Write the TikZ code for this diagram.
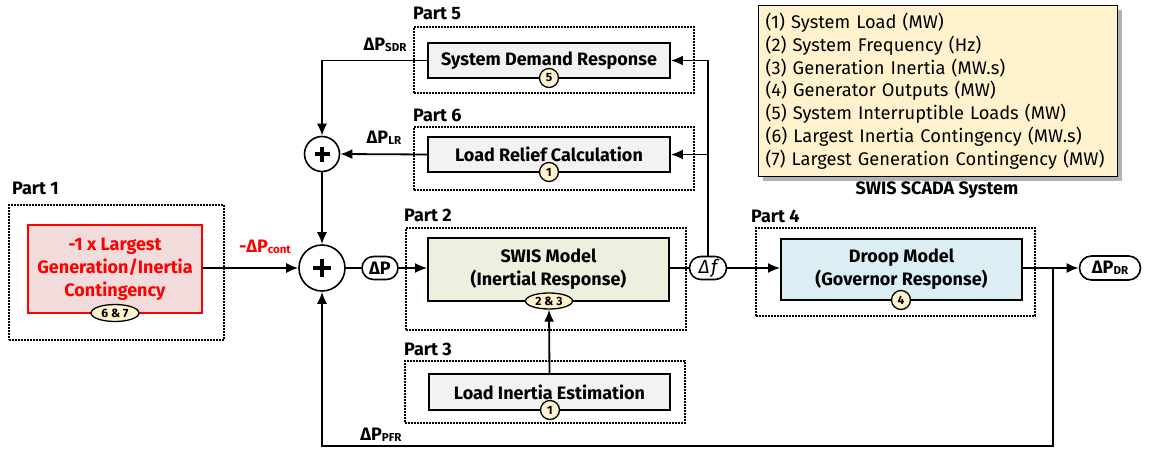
\documentclass[tikz,border=0pt]{standalone}
\usepackage{fontspec}
\setmainfont{Fira Sans}
\usetikzlibrary{arrows.meta,shadows,calc,shapes.geometric}
\definecolor{redfill}{HTML}{F2DCDB}
\definecolor{greenfill}{HTML}{EBF1DE}
\definecolor{bluefill}{HTML}{DAEEF3}
\definecolor{grayfill}{HTML}{F2F2F2}
\definecolor{yelfill}{HTML}{FFF2CC}
\definecolor{redline}{HTML}{FF0000}
\newcommand\fsmain{\fontsize{18}{23}\selectfont\bfseries}
\newcommand\fsleg{\fontsize{18.3}{22.8}\selectfont}
\newcommand\fsbadge{\fontsize{12}{12}\selectfont\bfseries}
\newcommand\dsub[1]{\raisebox{-1.5pt}{\fontsize{11.5}{11.5}\selectfont\bfseries #1}}
\begin{document}
\begin{tikzpicture}[x=1pt,y=-1pt,
  partbox/.style={draw, line width=1.2pt, dash pattern=on 1.6pt off 1.4pt, inner sep=0pt},
  partlbl/.style={font=\fsmain, inner sep=0pt, anchor=west},
  blockbox/.style={draw, line width=1.9pt, inner sep=0pt, align=center, font=\fsmain},
  redbox/.style={blockbox, draw=redline, fill=redfill, text=redline},
  badge/.style={circle, draw, line width=1.3pt, fill=yelfill, inner sep=0pt, minimum size=19pt, font=\fsbadge},
  badgeov/.style={ellipse, draw, line width=1.3pt, fill=yelfill, inner sep=0pt, font=\fsbadge},
  sumnode/.style={circle, draw, line width=1.6pt, fill=white, inner sep=0pt},
  pill/.style={draw, line width=1.6pt, fill=white, inner sep=0pt, font=\fsmain},
  lbl/.style={font=\fsmain, inner sep=0pt},
  arr/.style={line width=1.8pt, -{Latex[length=12pt,width=10pt]}},
  ln/.style={line width=1.8pt},
  plusline/.style={line width=3.8pt}
]
\useasboundingbox (0,0) rectangle (1151,452);

% ---------- Part 1
\node[partbox, minimum width=215pt, minimum height=135pt] (p1) at (116.5,272.5) {};
\node[partlbl] (p1l) at (12,188) {Part 1};
\node[redbox, minimum width=174pt, minimum height=88pt] (cont) at (115,269) {-1 x Largest\\Generation/Inertia\\Contingency};
\node[badgeov, minimum width=48pt, minimum height=17pt] (b67) at (115,313) {6 \& 7};

% ---------- sums
\node[sumnode, minimum size=46pt] (plus1) at (322,268) {};
\draw[plusline] ($(plus1)+(-9,0)$) -- ($(plus1)+(9,0)$);
\draw[plusline] ($(plus1)+(0,-9)$) -- ($(plus1)+(0,9)$);
\node[sumnode, minimum size=35pt] (plus2) at (322,154) {};
\draw[plusline, line width=3.4pt] ($(plus2)+(-7.5,0)$) -- ($(plus2)+(7.5,0)$);
\draw[plusline, line width=3.4pt] ($(plus2)+(0,-7.5)$) -- ($(plus2)+(0,7.5)$);

\node[pill, minimum width=36pt, minimum height=23pt, rounded corners=11.5pt] (dP) at (380,268) {ΔP};

% ---------- Part 2
\node[partbox, minimum width=280pt, minimum height=102pt] (p2) at (546,279) {};
\node[partlbl] (p2l) at (404,215) {Part 2};
\node[blockbox, fill=greenfill, minimum width=241pt, minimum height=63pt] (swis) at (548.5,269.5) {SWIS Model\\(Inertial Response)};
\node[badgeov, minimum width=47pt, minimum height=16pt] (b23) at (549,301) {2 \& 3};

% ---------- Part 3
\node[partbox, minimum width=280pt, minimum height=62pt] (p3) at (545,392) {};
\node[partlbl] (p3l) at (404,349) {Part 3};
\node[blockbox, fill=grayfill, minimum width=241pt, minimum height=36pt] (lie) at (549.5,392) {Load Inertia Estimation};
\node[badge] (b1a) at (550,410) {1};

% ---------- Part 5
\node[partbox, minimum width=280pt, minimum height=66pt] (p5) at (554,60) {};
\node[partlbl] (p5l) at (413,13) {Part 5};
\node[blockbox, fill=grayfill, minimum width=242pt, minimum height=35pt] (sdr) at (549,60.5) {System Demand Response};
\node[badge] (b5) at (549,78) {5};

% ---------- Part 6
\node[partbox, minimum width=280pt, minimum height=63pt] (p6) at (554,158.5) {};
\node[partlbl] (p6l) at (413,115) {Part 6};
\node[blockbox, fill=grayfill, minimum width=242pt, minimum height=35pt] (lr) at (549,154.5) {Load Relief Calculation};
\node[badge] (b1b) at (549,172) {1};

% ---------- Delta f
\node[pill, minimum width=37pt, minimum height=23pt, rounded corners=11.5pt, font=\fontsize{19}{19}\selectfont\mdseries\itshape] (df) at (708,268) {Δ\kern1.5pt f};

% ---------- Part 4
\node[partbox, minimum width=279pt, minimum height=88pt] (p4) at (895.5,272) {};
\node[partlbl] (p4l) at (751,216) {Part 4};
\node[blockbox, fill=bluefill, minimum width=241pt, minimum height=61pt] (droop) at (901.5,269.5) {Droop Model\\(Governor Response)};
\node[badge] (b4) at (901,300) {4};

\node[pill, minimum width=61pt, minimum height=24pt, rounded corners=12pt] (dpdr) at (1110,268) {ΔP\dsub{DR}};

% ---------- legend
\node[draw, line width=1.3pt, fill=yelfill, minimum width=359pt, minimum height=171pt, anchor=north west,
      drop shadow={shadow xshift=4pt, shadow yshift=-4pt, fill=black, opacity=0.3},
      align=left, text width=345pt, inner xsep=7pt, font=\fsleg] (leg) at (758,5)
  {(1) System Load (MW)\\(2) System Frequency (Hz)\\(3) Generation Inertia (MW.s)\\(4) Generator Outputs (MW)\\(5) System Interruptible Loads (MW)\\(6) Largest Inertia Contingency (MW.s)\\(7) Largest Generation Contingency (MW)};
\node[lbl] (scada) at (937,190) {SWIS SCADA System};

% ---------- labels
\node[lbl, text=redline] (lcont) at (265,247) {-ΔP\dsub{cont}};
\node[lbl] (lsdr) at (385,45) {ΔP\dsub{SDR}};
\node[lbl] (llr) at (384,138) {ΔP\dsub{LR}};
\node[lbl] (lpfr) at (381,435) {ΔP\dsub{PFR}};

% ---------- connectors
\coordinate (br) at (1053,268);
\coordinate (bot) at (322,446);

\draw[arr] (cont.east |- plus1.west) -- (plus1.west);
\draw[ln] (plus1.east) -- (dP.west);
\draw[arr] (dP.east) -- (dP.east -| swis.west);
\draw[ln] (swis.east |- df.west) -- (df.west);
\draw[arr] (df.east) -- (df.east -| droop.west);
\draw[arr] (droop.east |- dpdr.west) -- (dpdr.west);
\draw[arr] (br) |- (bot) -- (plus1.south);
\draw[arr] (df.north) |- (sdr.east);
\draw[arr] (df.north |- lr.east) -- (lr.east);
\draw[arr] (sdr.west) -| (plus2.north);
\draw[arr] (lr.west) -- (plus2.east);
\draw[arr] (plus2.south) -- (plus1.north);
\draw[arr] (lie.north) -- (b23.south);
\end{tikzpicture}
\end{document}
